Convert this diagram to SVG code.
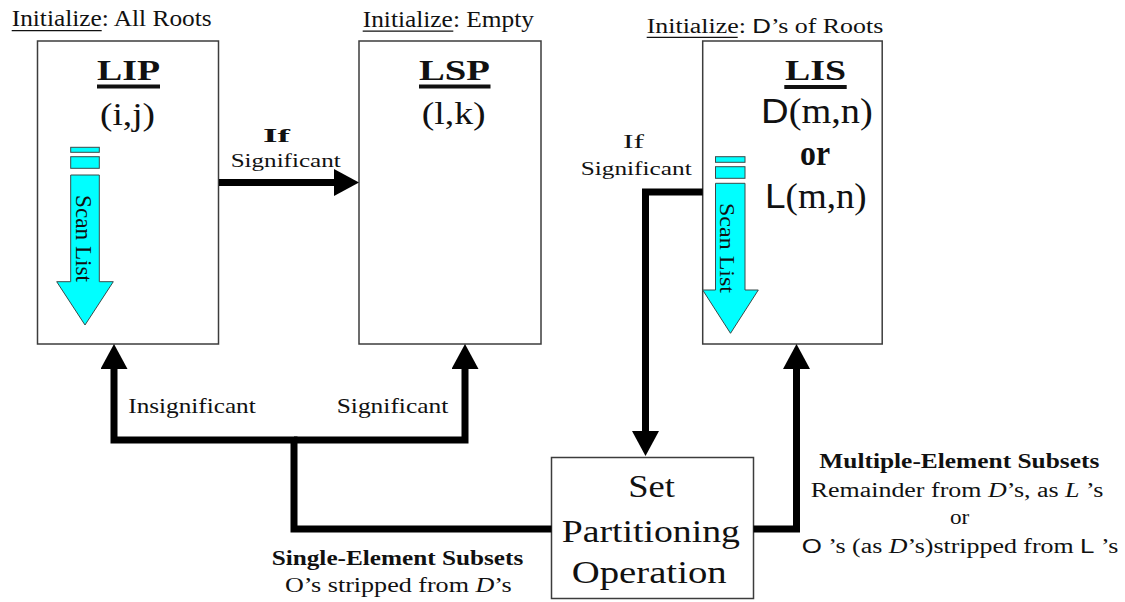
<svg xmlns="http://www.w3.org/2000/svg" width="1125" height="602" viewBox="0 0 1125 602">
  <defs>
    <style>
      .box{fill:#fff;stroke:#3c3c3c;stroke-width:1.5}
      .wire{fill:none;stroke:#000;stroke-width:7;stroke-linejoin:miter;stroke-linecap:butt}
      .t{font-family:'Liberation Serif','Times New Roman',Times,serif;fill:#111}
      .s{font-family:'Liberation Sans',Arial,Helvetica,sans-serif}
      .b{font-weight:bold}
      .i{font-style:italic}
      .scan{fill:#00ffff;stroke:#3a4a4a;stroke-width:1}
      .rule{stroke:#111;stroke-width:1.2}
      .bar{fill:#111}
    </style>
    <!-- solid triangular arrowhead; its base sits on the end of the wire -->
    <marker id="head" markerUnits="userSpaceOnUse" markerWidth="25" markerHeight="27" viewBox="0 0 25 27" refX="0" refY="13.5" orient="auto">
      <path d="M0,0 L25,13.5 L0,27 Z" fill="#000"/>
    </marker>
  </defs>
  <rect width="1125" height="602" fill="#fff"/>

  <!-- initialisation captions above the three lists -->
  <g id="init-labels" class="t" font-family="Liberation Serif, serif">
    <text x="11.7" y="26" font-size="23" textLength="200" lengthAdjust="spacingAndGlyphs">Initialize: All Roots</text>
    <line class="rule" x1="11.7" y1="30.6" x2="101.7" y2="30.6"/>
    <text x="362.7" y="26.7" font-size="23" textLength="171.3" lengthAdjust="spacingAndGlyphs">Initialize: Empty</text>
    <line class="rule" x1="362.7" y1="31.2" x2="453.3" y2="31.2"/>
    <text x="646.7" y="33.3" font-size="20" textLength="236.6" lengthAdjust="spacingAndGlyphs">Initialize: <tspan class="s">D</tspan>’s of Roots</text>
    <line class="rule" x1="646.7" y1="37.4" x2="737.7" y2="37.4"/>
  </g>

  <!-- List of Insignificant Pixels -->
  <g id="lip" font-family="Liberation Serif, serif">
    <rect class="box" x="37.5" y="41" width="181" height="303"/>
    <text class="t b" x="97" y="80" font-size="30" textLength="63" lengthAdjust="spacingAndGlyphs">LIP</text>
    <rect class="bar" x="97" y="84.5" width="63" height="4"/>
    <text class="t" x="100" y="124.5" font-size="32" textLength="55" lengthAdjust="spacingAndGlyphs">(i,j)</text>
    <rect class="scan" x="70.7" y="147.3" width="28.6" height="5"/>
    <rect class="scan" x="70.7" y="156.7" width="28.6" height="11.6"/>
    <path class="scan" d="M70.7,175 H99.3 V281.7 H113.3 L85,325 L56.7,281.7 H70.7 Z"/>
    <text class="t" transform="translate(75.5,195) rotate(90)" font-size="23" textLength="87" lengthAdjust="spacingAndGlyphs">Scan List</text>
  </g>

  <!-- List of Significant Pixels -->
  <g id="lsp" font-family="Liberation Serif, serif">
    <rect class="box" x="359" y="41" width="182" height="303"/>
    <text class="t b" x="419" y="80" font-size="30" textLength="71" lengthAdjust="spacingAndGlyphs">LSP</text>
    <rect class="bar" x="419" y="84.5" width="71.5" height="4"/>
    <text class="t" x="421.7" y="124" font-size="32" textLength="64" lengthAdjust="spacingAndGlyphs">(l,k)</text>
  </g>

  <!-- List of Insignificant Sets -->
  <g id="lis" font-family="Liberation Serif, serif">
    <rect class="box" x="702.7" y="41" width="179.5" height="303"/>
    <text class="t b" x="785" y="80" font-size="30" textLength="61" lengthAdjust="spacingAndGlyphs">LIS</text>
    <rect class="bar" x="784.3" y="85" width="62.4" height="4"/>
    <text class="t" x="761" y="123.3" font-size="35" textLength="111.7" lengthAdjust="spacingAndGlyphs"><tspan class="s">D</tspan>(m,n)</text>
    <text class="t b" x="800" y="165" font-size="36" textLength="30" lengthAdjust="spacingAndGlyphs">or</text>
    <text class="t" x="765" y="208.3" font-size="35" textLength="101.7" lengthAdjust="spacingAndGlyphs"><tspan class="s">L</tspan>(m,n)</text>
    <rect class="scan" x="715.5" y="156.7" width="29.5" height="5.6"/>
    <rect class="scan" x="715.5" y="166.7" width="29.5" height="11.6"/>
    <path class="scan" d="M715.5,183.3 H745 V290 H758.3 L730.5,333.3 L702.7,290 H715.5 Z"/>
    <text class="t" transform="translate(719.5,203) rotate(90)" font-size="22" textLength="90" lengthAdjust="spacingAndGlyphs">Scan List</text>
  </g>

  <!-- set partitioning step -->
  <g id="set-partitioning" font-family="Liberation Serif, serif">
    <rect class="box" x="551.5" y="457.5" width="202" height="141"/>
    <text class="t" x="628.3" y="496.7" font-size="31" textLength="46.7" lengthAdjust="spacingAndGlyphs">Set</text>
    <text class="t" x="561.7" y="541.7" font-size="31" textLength="178.3" lengthAdjust="spacingAndGlyphs">Partitioning</text>
    <text class="t" x="571.7" y="583.3" font-size="31" textLength="155" lengthAdjust="spacingAndGlyphs">Operation</text>
  </g>

  <!-- flow between lists and the partitioning step -->
  <g id="connectors">
    <path class="wire" d="M219,182.5 H334" marker-end="url(#head)"/>
    <path class="wire" d="M551.5,529 H294 V440 H114 V369" marker-end="url(#head)"/>
    <path class="wire" d="M294,440 H465 V369" marker-end="url(#head)"/>
    <path class="wire" d="M702.7,192 H645.5 V431" marker-end="url(#head)"/>
    <path class="wire" d="M753.5,529 H796.5 V369" marker-end="url(#head)"/>
  </g>

  <!-- connector labels -->
  <g id="connector-labels" class="t" font-family="Liberation Serif, serif">
    <text class="b" x="263" y="141.7" font-size="19" textLength="27" lengthAdjust="spacingAndGlyphs">If</text>
    <text x="230.7" y="167" font-size="19" textLength="110" lengthAdjust="spacingAndGlyphs">Significant</text>
    <text x="623" y="148" font-size="19" textLength="21" lengthAdjust="spacingAndGlyphs">If</text>
    <text x="580.7" y="175" font-size="19" textLength="111" lengthAdjust="spacingAndGlyphs">Significant</text>
    <text x="128.3" y="412.7" font-size="21" textLength="127.4" lengthAdjust="spacingAndGlyphs">Insignificant</text>
    <text x="336.7" y="412.7" font-size="21" textLength="111.6" lengthAdjust="spacingAndGlyphs">Significant</text>
    <text class="b" x="271.7" y="565" font-size="20" textLength="251.6" lengthAdjust="spacingAndGlyphs">Single-Element Subsets</text>
    <text x="285" y="592.3" font-size="20" textLength="226.7" lengthAdjust="spacingAndGlyphs">O’s stripped from <tspan class="i">D</tspan>’s</text>
    <text class="b" x="819.3" y="468.3" font-size="20" textLength="280" lengthAdjust="spacingAndGlyphs">Multiple-Element Subsets</text>
    <text x="810.7" y="496.7" font-size="20" textLength="292.6" lengthAdjust="spacingAndGlyphs">Remainder from <tspan class="i">D</tspan>’s, as <tspan class="i">L</tspan> ’s</text>
    <text x="950" y="524.3" font-size="20" textLength="19.3" lengthAdjust="spacingAndGlyphs">or</text>
    <text x="801.7" y="552.7" font-size="20" textLength="316.6" lengthAdjust="spacingAndGlyphs"><tspan class="s">O</tspan> ’s (as <tspan class="i">D</tspan>’s)stripped from <tspan class="s">L</tspan> ’s</text>
  </g>
</svg>
